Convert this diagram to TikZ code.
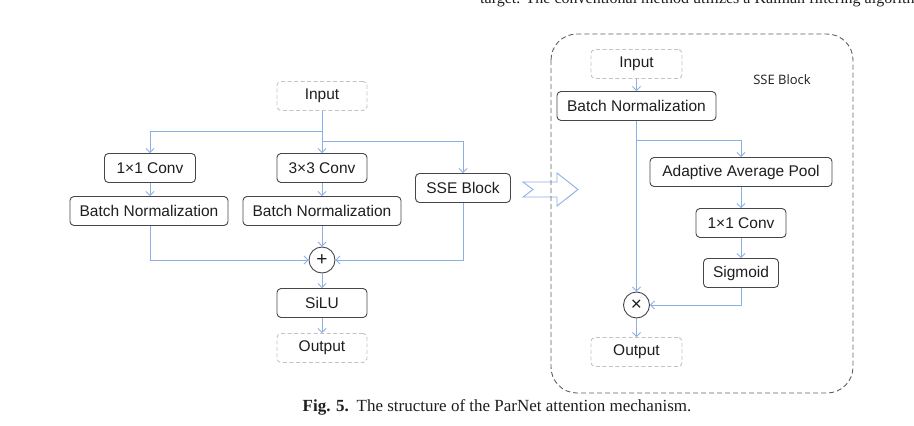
\documentclass[tikz,border=0pt]{standalone}
\usepackage{fontspec}
\setmainfont{Liberation Sans}
\newfontfamily\capfont{Liberation Serif}
\newfontfamily\lblfont{Open Sans}
\usetikzlibrary{arrows.meta,calc}
\definecolor{conncol}{RGB}{140,175,230}
\definecolor{boxcol}{RGB}{70,70,70}
\definecolor{dashcol}{RGB}{195,195,195}
\definecolor{bigcol}{RGB}{95,95,95}
\definecolor{txtcol}{RGB}{30,30,30}
\begin{document}
\begin{tikzpicture}[x=1pt,y=-1pt,
  box/.style={draw=boxcol, rounded corners=4pt, line width=0.9pt, minimum height=29pt,
    inner sep=0pt, font=\fontsize{15.5}{18}\selectfont, text=txtcol},
  dbox/.style={box, draw=dashcol, dash pattern=on 4pt off 2.5pt},
  opcirc/.style={draw=boxcol, circle, line width=0.9pt, minimum size=26pt, inner sep=0pt,
    font=\fontsize{19}{20}\selectfont, text=txtcol},
  conn/.style={draw=conncol, line width=0.9pt, -{Straight Barb[length=4pt,width=8pt]}},
  link/.style={draw=conncol, line width=0.9pt}
]
\useasboundingbox (0,0) rectangle (914,426);

% top running text (cut by the page edge, as in the reference)
\node[anchor=base west, inner sep=0pt, font=\capfont\fontsize{16}{18}\selectfont, text=txtcol]
  (toptxt) at (480,3) {target. The conventional method utilizes a Kalman filtering algorithm};

% ---------- left part ----------
\node[dbox, minimum width=90pt] (in1) at (322,96) {Input};
\node[box, minimum width=91pt] (c1) at (150,168) {1×1 Conv};
\node[box, minimum width=158pt] (bn1) at (149,211) {Batch Normalization};
\node[box, minimum width=90pt] (c3) at (322,168) {3×3 Conv};
\node[box, minimum width=158pt] (bn3) at (322,211) {Batch Normalization};
\node[box, minimum width=95pt] (sse) at (463,188) {SSE Block};
\node[opcirc] (plus) at (322,260) {+};
\node[box, minimum width=90pt] (silu) at (322,303) {SiLU};
\node[dbox, minimum width=90pt] (out1) at (322,348) {Output};

\coordinate (j1) at (322,131);
\coordinate (j2) at (322,141);
\draw[conn] (in1.south) -- (c3.north);
\draw[conn] (j1) -| (c1.north);
\draw[conn] (j2) -| (sse.north);
\draw[conn] (c1.south) -- (c1.south |- bn1.north);
\draw[conn] (c3.south) -- (bn3.north);
\draw[conn] (c1.south |- bn1.south) |- (plus.west);
\draw[conn] (sse.south) |- (plus.east);
\draw[conn] (bn3.south) -- (plus.north);
\draw[conn] (plus.south) -- (silu.north);
\draw[conn] (silu.south) -- (out1.north);

% big hollow arrow
\draw[link] (523,182) -- (557,182) -- (557,173) -- (578,189.5) -- (557,206) -- (557,197)
  -- (523,197) -- (533,189.5) -- cycle;

% ---------- right part ----------
\draw[draw=bigcol, line width=0.9pt, dash pattern=on 5pt off 3pt, rounded corners=26pt]
  (551,34) rectangle (853,393);
\node[font=\lblfont\fontsize{13}{15}\selectfont, text=txtcol] (lbl) at (782,80) {SSE Block};

\node[dbox, minimum width=91pt] (in2) at (636.5,64) {Input};
\node[box, minimum width=159pt] (bn2) at (636.5,106) {Batch Normalization};
\node[box, minimum width=182pt] (aap) at (741,172) {Adaptive Average Pool};
\node[box, minimum width=90pt] (cv2) at (741,223) {1×1 Conv};
\node[box, minimum width=75pt] (sig) at (741,273) {Sigmoid};
\node[opcirc] (times) at (636.5,305) {×};
\node[dbox, minimum width=91pt] (out2) at (636.5,352) {Output};

\coordinate (j3) at (636.5,140);
\draw[conn] (in2.south) -- (bn2.north);
\draw[conn] (bn2.south) -- (times.north);
\draw[conn] (j3) -| (aap.north);
\draw[conn] (aap.south) -- (cv2.north);
\draw[conn] (cv2.south) -- (sig.north);
\draw[conn] (sig.south) |- (times.east);
\draw[conn] (times.south) -- (out2.north);

% caption
\node[font=\capfont\fontsize{17}{19}\selectfont, text=txtcol] (cap) at (497,407)
  {\textbf{Fig. 5.}\hspace{0.45em}The structure of the ParNet attention mechanism.};
\end{tikzpicture}
\end{document}
